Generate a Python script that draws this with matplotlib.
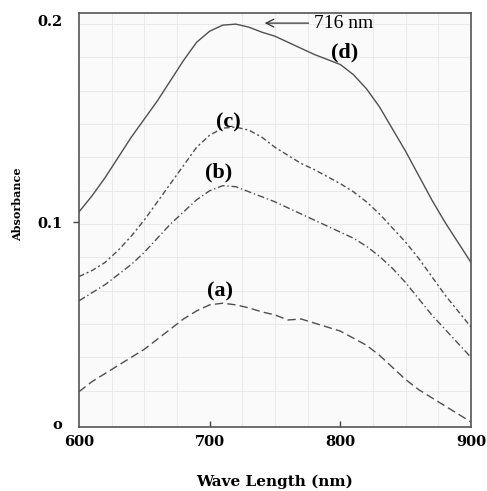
import numpy as np
import matplotlib.pyplot as plt
from matplotlib.ticker import MultipleLocator

# wavelength (nm) and absorbance
wave = [600, 610, 620, 630, 640, 650, 660, 670, 680, 690, 700, 710, 720, 730, 740, 750,
        760, 770, 780, 790, 800, 810, 820, 830, 840, 850, 860, 870, 880, 890, 900]
abs_d = [0.105, 0.113, 0.122, 0.132, 0.142, 0.151, 0.160, 0.170, 0.180, 0.189, 0.1945, 0.1975, 0.198, 0.1965, 0.194, 0.192,
         0.189, 0.186, 0.183, 0.1805, 0.178, 0.173, 0.166, 0.157, 0.146, 0.135, 0.123, 0.111, 0.100, 0.090, 0.080]
abs_c = [0.073, 0.076, 0.080, 0.086, 0.093, 0.101, 0.110, 0.119, 0.128, 0.137, 0.143, 0.1465, 0.147, 0.1455, 0.142, 0.137,
         0.133, 0.129, 0.126, 0.1225, 0.119, 0.115, 0.110, 0.104, 0.097, 0.090, 0.082, 0.073, 0.064, 0.056, 0.048]
abs_b = [0.061, 0.065, 0.069, 0.074, 0.079, 0.085, 0.092, 0.099, 0.105, 0.111, 0.1155, 0.118, 0.1175, 0.115, 0.1125, 0.110,
         0.107, 0.104, 0.101, 0.098, 0.095, 0.092, 0.088, 0.083, 0.077, 0.070, 0.062, 0.054, 0.047, 0.040, 0.033]
abs_a = [0.016, 0.021, 0.025, 0.029, 0.033, 0.037, 0.042, 0.047, 0.052, 0.056, 0.059, 0.0598, 0.059, 0.0575, 0.0555, 0.054,
         0.0515, 0.052, 0.050, 0.048, 0.046, 0.0425, 0.039, 0.034, 0.028, 0.022, 0.017, 0.013, 0.009, 0.005, 0.001]

x_ticks = [600, 700, 800, 900]
y_ticks = [0, 0.1, 0.2]
y_tick_labels = ['o', '0.1', '0.2']

fig = plt.figure(figsize=(4.87, 4.91), dpi=100)
ax = fig.add_axes([0.1622, 0.1303, 0.8049, 0.8432])
ax.set_facecolor('#fafafa')

col = '#505050'
ax.plot(wave, abs_d, color=col, lw=1.0, ls='-')
ax.plot(wave, abs_c, color=col, lw=1.0, ls=(0, (4, 2, 1.5, 2)))
ax.plot(wave, abs_b, color=col, lw=1.0, ls=(0, (5, 2, 1, 2)))
ax.plot(wave, abs_a, color=col, lw=1.0, ls=(0, (6, 3)))

ax.set_xlim(600, 900)
ax.set_ylim(-0.0015, 0.2035)

# faint graph-paper grid
ax.xaxis.set_minor_locator(MultipleLocator(25))
ax.yaxis.set_minor_locator(MultipleLocator(0.0165))
ax.grid(which='minor', color='#e6e6e6', lw=0.6)
ax.set_axisbelow(True)

ax.set_xticks(x_ticks)
ax.set_xticklabels([str(v) for v in x_ticks], family='DejaVu Serif', fontweight='bold', fontsize=10.5)
ax.set_yticks(y_ticks)
ax.set_yticklabels(y_tick_labels, family='DejaVu Serif', fontweight='bold', fontsize=10.5)
ax.tick_params(axis='x', which='major', direction='in', length=4, width=1, color='#444444', pad=6)
ax.tick_params(axis='y', which='major', direction='out', length=4, width=1, color='#444444', pad=8)
ax.tick_params(which='minor', length=0)

# only the inner tick marks show in the original
for i in [0, 2]:
    ax.yaxis.get_major_ticks()[i].tick1line.set_visible(False)
for i in [0, 3]:
    ax.xaxis.get_major_ticks()[i].tick1line.set_visible(False)

for s in ax.spines.values():
    s.set_color('#555555')
    s.set_linewidth(1.2)

ax.set_xlabel('Wave Length (nm)', family='DejaVu Serif', fontweight='bold', fontsize=11, va='center')
ax.xaxis.set_label_coords(0.5, -0.133)
ax.set_ylabel('Absorbance', family='DejaVu Serif', fontweight='bold', fontsize=8, va='center')
ax.yaxis.set_label_coords(-0.156, 0.539)

lbl = dict(family='Liberation Serif', fontweight='bold', fontsize=16, ha='center', va='center')
ax.text(803, 0.184, '(d)', **lbl)
ax.text(714, 0.1495, '(c)', **lbl)
ax.text(707, 0.1245, '(b)', **lbl)
ax.text(708, 0.0655, '(a)', **lbl)

ax.annotate('716 nm', xy=(740, 0.1985), xytext=(780, 0.1985),
            family='Liberation Serif', fontsize=14, va='center', ha='left',
            arrowprops=dict(arrowstyle='->', color='#333333', lw=0.9))

fig.savefig('out.png', dpi=100)
